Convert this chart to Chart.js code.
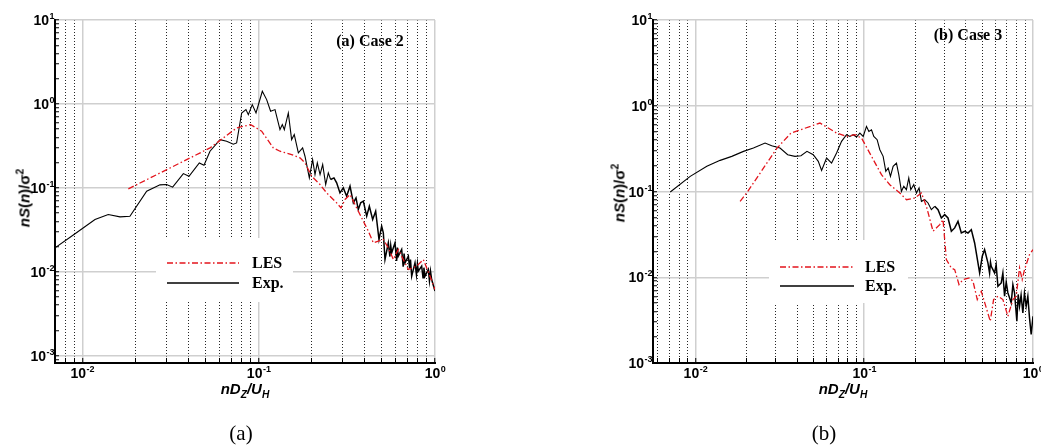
<!DOCTYPE html>
<html>
<head>
<meta charset="utf-8">
<script src="https://cdn.jsdelivr.net/npm/chart.js@4.4.1/dist/chart.umd.min.js"></script>
<style>
    html, body { margin: 0; padding: 0; background: #fff; }
    #page { position: relative; width: 1041px; height: 448px; overflow: hidden; background: #fff; }
    canvas { position: absolute; top: 0; }
    #chartA { left: 0; }
    #chartB { left: 521px; }
    .lbl { position: absolute; white-space: nowrap; color: #000; line-height: 1; }
    .xtitle { font: italic bold 15px "Liberation Sans", Arial, sans-serif; transform: translate(-50%, -50%); }
    .ytitle { font: bold 15px "Liberation Sans", Arial, sans-serif; transform: translate(-50%, -50%) rotate(-90deg); }
    .case { font: bold 16px "Liberation Serif", "Times New Roman", serif; transform: translate(-50%, -50%); }
    .caption { font: 21px "Liberation Serif", "Times New Roman", serif; transform: translate(-50%, -50%); }
    sub, sup { font-size: 68%; line-height: 0; }
</style>
</head>
<body>
<div id="page">
    <canvas id="chartA" width="520" height="448"></canvas>
    <canvas id="chartB" width="520" height="448"></canvas>

    <div class="lbl case" style="left:370px; top:41px;">(a) Case 2</div>
    <div class="lbl xtitle" style="left:245px; top:388px;">nD<sub>Z</sub>/U<sub>H</sub></div>
    <div class="lbl ytitle" style="left:24px; top:198px;"><i>nS</i>(<i>n</i>)/σ<sup>2</sup></div>
    <div class="lbl caption" style="left:241px; top:433px;">(a)</div>

    <div class="lbl case" style="left:968px; top:35px;">(b) Case 3</div>
    <div class="lbl xtitle" style="left:843px; top:388px;">nD<sub>Z</sub>/U<sub>H</sub></div>
    <div class="lbl ytitle" style="left:619px; top:193px;"><i>nS</i>(<i>n</i>)/σ<sup>2</sup></div>
    <div class="lbl caption" style="left:824px; top:433px;">(b)</div>
</div>
<script>
// tick values
const xTicksA = [0.007, 0.008, 0.009, 0.01, 0.02, 0.03, 0.04, 0.05, 0.06, 0.07, 0.08, 0.09,
    0.1, 0.2, 0.3, 0.4, 0.5, 0.6, 0.7, 0.8, 0.9, 1];
const xTicksB = [0.006, 0.007, 0.008, 0.009, 0.01, 0.02, 0.03, 0.04, 0.05, 0.06, 0.07, 0.08, 0.09,
    0.1, 0.2, 0.3, 0.4, 0.5, 0.6, 0.7, 0.8, 0.9, 1];
const yTicks = [0.0009, 0.001, 0.002, 0.003, 0.004, 0.005, 0.006, 0.007, 0.008, 0.009,
    0.01, 0.02, 0.03, 0.04, 0.05, 0.06, 0.07, 0.08, 0.09,
    0.1, 0.2, 0.3, 0.4, 0.5, 0.6, 0.7, 0.8, 0.9,
    1, 2, 3, 4, 5, 6, 7, 8, 9, 10];

// (a) Case 2
const case2ExpX = [0.00700, 0.00897, 0.0118, 0.01403, 0.01636, 0.01862, 0.02317, 0.02757, 0.03006, 0.03253,
    0.03741, 0.04027, 0.04607, 0.04898, 0.05297, 0.06043, 0.06584, 0.07183, 0.0750, 0.0801,
    0.0847, 0.0874, 0.0920, 0.0966, 0.1049, 0.1110, 0.1169, 0.1238, 0.1321, 0.1362,
    0.1398, 0.1473, 0.1538, 0.1592, 0.1679, 0.1776, 0.1831, 0.1938, 0.2023, 0.2087,
    0.2151, 0.2229, 0.2307, 0.2399, 0.2483, 0.2560, 0.2673, 0.2769, 0.2891, 0.3020,
    0.3155, 0.3297, 0.3443, 0.3565, 0.3673, 0.3789, 0.3923, 0.4098, 0.4243, 0.4431,
    0.4608, 0.4813, 0.4983, 0.5093, 0.5205, 0.5436, 0.555, 0.561, 0.5679, 0.5932,
    0.606, 0.612, 0.6194, 0.6471, 0.660, 0.668, 0.6761, 0.7062, 0.718, 0.726,
    0.7375, 0.7702, 0.785, 0.795, 0.8043, 0.8403, 0.855, 0.865, 0.8777, 0.9166,
    0.930, 0.943, 0.9572, 1.0];
const case2ExpY = [0.0193, 0.0278, 0.0420, 0.0482, 0.0452, 0.0460, 0.0912, 0.1086, 0.1096, 0.1019,
    0.148, 0.1377, 0.1985, 0.1862, 0.2732, 0.376, 0.3594, 0.331, 0.3434, 0.781,
    0.856, 0.746, 0.982, 0.781, 1.415, 1.126, 0.818, 0.856, 0.495, 0.5675,
    0.495, 0.781, 0.376, 0.4315, 0.261, 0.2994, 0.2383, 0.1315, 0.2175, 0.1442,
    0.1985, 0.1442, 0.1897, 0.1096, 0.1509, 0.1257, 0.1315, 0.1147, 0.0872, 0.100,
    0.0796, 0.1047, 0.0663, 0.0760, 0.0552, 0.0663, 0.0694, 0.0460, 0.0605, 0.0420,
    0.0528, 0.02427, 0.0350, 0.0291, 0.01402, 0.02215, 0.0152, 0.0205, 0.01683, 0.02215,
    0.0135, 0.0195, 0.01537, 0.01845, 0.0115, 0.0165, 0.01280, 0.01537, 0.0110, 0.0140,
    0.00888, 0.01280, 0.0092, 0.0125, 0.01019, 0.01168, 0.0085, 0.0112, 0.00888, 0.01066,
    0.0078, 0.0102, 0.00810, 0.00589];
const case2LesX = [0.01824, 0.0530, 0.0750, 0.0901, 0.1040, 0.1211, 0.1321, 0.1538, 0.1716, 0.1831,
    0.1998, 0.2229, 0.2429, 0.2769, 0.2930, 0.3088, 0.3297, 0.3596, 0.3923, 0.4188,
    0.4470, 0.4771, 0.5093, 0.5436, 0.5803, 0.6194, 0.7062, 0.7870, 0.8586, 0.9367, 1.0];
const case2LesY = [0.0973, 0.2994, 0.518, 0.5675, 0.473, 0.2994, 0.2732, 0.2493, 0.2276, 0.1985,
    0.1377, 0.1096, 0.0872, 0.0663, 0.0578, 0.0727, 0.0833, 0.0578, 0.0401, 0.0305,
    0.02215, 0.0232, 0.02427, 0.0193, 0.01402, 0.01845, 0.01066, 0.01168, 0.01402, 0.00888, 0.00616];

// (b) Case 3
const case3ExpX = [0.00710, 0.00932, 0.01169, 0.01402, 0.01643, 0.01927, 0.02207, 0.02587, 0.02833, 0.03173,
    0.03522, 0.0389, 0.04222, 0.04582, 0.04994, 0.05346, 0.05594, 0.05988, 0.06410, 0.06862,
    0.07345, 0.07862, 0.08227, 0.0861, 0.09009, 0.09428, 0.09865, 0.1032, 0.1066, 0.1105,
    0.1140, 0.1193, 0.1238, 0.1295, 0.1343, 0.1387, 0.1431, 0.1484, 0.1553, 0.1603,
    0.1662, 0.1716, 0.1779, 0.1837, 0.1888, 0.1966, 0.2039, 0.2114, 0.2183, 0.2284,
    0.2390, 0.2500, 0.2616, 0.2738, 0.2865, 0.2998, 0.3137, 0.3283, 0.3436, 0.3595,
    0.3762, 0.3937, 0.4120, 0.4311, 0.4511, 0.4828, 0.5006, 0.5167, 0.5408, 0.553,
    0.560, 0.5658, 0.5921, 0.605, 0.6196, 0.6483, 0.663, 0.6785, 0.694, 0.7100,
    0.7430, 0.760, 0.7774, 0.8023, 0.817, 0.8322, 0.850, 0.8708, 0.890, 0.9112,
    0.932, 0.9535, 0.9754, 1.0];
const case3ExpY = [0.0987, 0.1502, 0.1964, 0.2307, 0.2569, 0.2937, 0.3212, 0.3673, 0.342, 0.3212,
    0.2686, 0.2569, 0.2616, 0.2937, 0.2686, 0.2246, 0.1764, 0.2456, 0.2148, 0.2809,
    0.3841, 0.4594, 0.4392, 0.4594, 0.4315, 0.4804, 0.4392, 0.5743, 0.5023, 0.5253,
    0.4392, 0.4017, 0.3072, 0.2569, 0.1718, 0.1878, 0.1502, 0.1964, 0.2148, 0.1571,
    0.1004, 0.1149, 0.1050, 0.1437, 0.1050, 0.1201, 0.0961, 0.1099, 0.0768, 0.0803,
    0.0735, 0.0614, 0.0672, 0.0614, 0.0491, 0.0537, 0.0491, 0.0344, 0.0376, 0.0449,
    0.0328, 0.0344, 0.0328, 0.0359, 0.0251, 0.01123, 0.01757, 0.0210, 0.01469, 0.0112,
    0.0150, 0.01343, 0.01123, 0.0140, 0.00785, 0.00859, 0.0112, 0.00601, 0.0088, 0.00657,
    0.00502, 0.0082, 0.00657, 0.00307, 0.0063, 0.00459, 0.0062, 0.00384, 0.0065, 0.00459,
    0.0060, 0.00336, 0.00215, 0.00351];
const case3LesX = [0.01841, 0.02044, 0.03046, 0.03685, 0.05468, 0.06126, 0.06862, 0.07862, 0.08809, 0.09643,
    0.1105, 0.1266, 0.1418, 0.1625, 0.1779, 0.1993, 0.2183, 0.2336, 0.2558, 0.2802,
    0.2931, 0.3067, 0.3283, 0.3436, 0.3644, 0.3847, 0.4214, 0.4410, 0.4677, 0.4938,
    0.5287, 0.5582, 0.5841, 0.6196, 0.6633, 0.7100, 0.7602, 0.7953, 0.8322, 0.8630,
    0.8910, 0.9535, 1.0];
const case3LesY = [0.0768, 0.1004, 0.3212, 0.4804, 0.6284, 0.5494, 0.4804, 0.4392, 0.4594, 0.4200,
    0.2569, 0.1571, 0.1201, 0.0961, 0.0803, 0.0840, 0.0961, 0.0672, 0.0344, 0.0411,
    0.0470, 0.01606, 0.01284, 0.01228, 0.00822, 0.00939, 0.00982, 0.00898, 0.00549, 0.00687,
    0.00439, 0.00307, 0.00549, 0.00601, 0.00549, 0.00351, 0.00549, 0.00601, 0.01284, 0.00939,
    0.01228, 0.01837, 0.0210];

const GRID_GRAY = '#cfcfcf';
const DOT_BLACK = 'rgba(0,0,0,0.85)';
const LES_RED = '#e3141c';
const BASE_FONT = 'bold 14px "Liberation Sans", Arial, sans-serif';
const EXP_FONT = 'bold 9px "Liberation Sans", Arial, sans-serif';

function isDecade(v) {
    const e = Math.log10(v);
    return Math.abs(e - Math.round(e)) < 1e-6;
}

function zip(xs, ys) {
    return xs.map(function(x, i) { return { x: x, y: ys[i] }; });
}

function tickIsDecade(ctx) {
    return Boolean(ctx.tick) && isDecade(ctx.tick.value);
}

// "10" with a raised exponent; anchor is 'center' (x axis) or 'right' (y axis)
function drawPower(ctx, value, x, baseline, anchor) {
    const exp = String(Math.round(Math.log10(value)));
    ctx.font = BASE_FONT;
    const wBase = ctx.measureText('10').width;
    ctx.font = EXP_FONT;
    const wExp = ctx.measureText(exp).width;
    const left = anchor === 'center' ? x - (wBase + wExp) / 2 : x - wBase - wExp;
    ctx.font = BASE_FONT;
    ctx.fillText('10', left, baseline);
    ctx.font = EXP_FONT;
    ctx.fillText(exp, left + wBase + 0.5, baseline - 6);
}

const powerTicks = {
    id: 'powerTicks',
    afterDraw(chart) {
        const ctx = chart.ctx;
        const xs = chart.scales.x;
        const ys = chart.scales.y;
        ctx.save();
        ctx.fillStyle = '#000';
        ctx.textAlign = 'left';
        ctx.textBaseline = 'alphabetic';
        xs.ticks.forEach(function(t) {
            if (isDecade(t.value)) {
                drawPower(ctx, t.value, xs.getPixelForValue(t.value), xs.top + 15, 'center');
            }
        });
        ys.ticks.forEach(function(t) {
            if (isDecade(t.value)) {
                drawPower(ctx, t.value, ys.right - 1, ys.getPixelForValue(t.value) + 5, 'right');
            }
        });
        ctx.restore();
    }
};

// white box with line samples, drawn over the grid but under the curves
const legendBox = {
    id: 'legendBox',
    beforeDatasetsDraw(chart, args, opts) {
        const ctx = chart.ctx;
        ctx.save();
        ctx.fillStyle = '#fff';
        ctx.fillRect(opts.left, opts.top, opts.width, opts.height);
        ctx.restore();
    },
    afterDatasetsDraw(chart, args, opts) {
        const ctx = chart.ctx;
        ctx.save();
        chart.data.datasets.forEach(function(ds, i) {
            const y = opts.rowY[i];
            ctx.strokeStyle = ds.borderColor;
            ctx.lineWidth = 1.3;
            ctx.setLineDash(ds.borderDash || []);
            ctx.beginPath();
            ctx.moveTo(opts.lineX0, y);
            ctx.lineTo(opts.lineX1, y);
            ctx.stroke();
            ctx.setLineDash([]);
            ctx.fillStyle = '#000';
            ctx.font = 'bold 16px "Liberation Serif", "Times New Roman", serif';
            ctx.textBaseline = 'middle';
            ctx.fillText(ds.label, opts.textX, y + 1);
        });
        ctx.restore();
    }
};

function buildPanel(canvasId, cfg) {
    const canvas = document.getElementById(canvasId);

    return new Chart(canvas, {
        type: 'line',
        data: {
            datasets: [
                { label: 'LES', data: zip(cfg.lesX, cfg.lesY), borderColor: LES_RED, borderWidth: 1.3, borderDash: [6, 2.5, 1.5, 2.5], pointRadius: 0, fill: false, tension: 0 },
                {
                    label: 'Exp.', data: zip(cfg.expX, cfg.expY), borderColor: '#000', borderWidth: 1.1, pointRadius: 0, fill: false, tension: 0,
                    segment: { borderWidth: function(ctx) { return ctx.p0.parsed.x > 0.25 ? 1.5 : 1.1; } }
                }
            ]
        },
        options: {
            responsive: false,
            animation: false,
            devicePixelRatio: 1,
            layout: { padding: { left: cfg.padLeft, right: cfg.padRight, top: 20, bottom: 45 } },
            plugins: {
                legend: { display: false },
                tooltip: { enabled: false },
                legendBox: cfg.legend
            },
            scales: {
                x: {
                    type: 'logarithmic',
                    min: cfg.xMin,
                    max: 1,
                    afterBuildTicks: function(scale) {
                        scale.ticks = cfg.xTicks.map(function(v) { return { value: v }; });
                    },
                    afterFit: function(scale) {
                        scale.height = 40;
                        scale.paddingLeft = 0;
                        scale.paddingRight = 0;
                    },
                    grid: {
                        color: function(ctx) { return tickIsDecade(ctx) ? GRID_GRAY : DOT_BLACK; },
                        lineWidth: function(ctx) { return tickIsDecade(ctx) ? 1.5 : 1; },
                        tickColor: '#000',
                        tickLength: -5,
                        tickWidth: 1
                    },
                    border: {
                        color: '#000',
                        width: 2,
                        dash: function(ctx) { return ctx.tick && !isDecade(ctx.tick.value) ? [1, 2] : []; }
                    },
                    ticks: { display: false, autoSkip: false, maxRotation: 0 }
                },
                y: {
                    type: 'logarithmic',
                    min: cfg.yMin,
                    max: 10,
                    afterBuildTicks: function(scale) {
                        scale.ticks = yTicks.filter(function(v) { return v >= cfg.yMin; }).map(function(v) { return { value: v }; });
                    },
                    afterFit: function(scale) {
                        scale.width = 55;
                        scale.paddingTop = 0;
                        scale.paddingBottom = 0;
                    },
                    grid: {
                        color: function(ctx) { return tickIsDecade(ctx) ? GRID_GRAY : 'rgba(0,0,0,0)'; },
                        lineWidth: 1.5,
                        tickColor: '#000',
                        tickLength: -4,
                        tickWidth: 1
                    },
                    border: { color: '#000', width: 2 },
                    ticks: { display: false, autoSkip: false }
                }
            }
        },
        plugins: [legendBox, powerTicks]
    });
}

buildPanel('chartA', {
    expX: case2ExpX, expY: case2ExpY, lesX: case2LesX, lesY: case2LesY,
    xTicks: xTicksA, xMin: 0.007, yMin: 0.00082,
    padLeft: 0, padRight: 85,
    legend: { left: 156, top: 238, width: 137, height: 64, lineX0: 167, lineX1: 239, textX: 252, rowY: [263, 283] }
});

buildPanel('chartB', {
    expX: case3ExpX, expY: case3ExpY, lesX: case3LesX, lesY: case3LesY,
    xTicks: xTicksB, xMin: 0.00561, yMin: 0.001,
    padLeft: 77, padRight: 8,
    legend: { left: 248, top: 240, width: 139, height: 63, lineX0: 259, lineX1: 333, textX: 344, rowY: [267, 286] }
});
</script>
</body>
</html>
